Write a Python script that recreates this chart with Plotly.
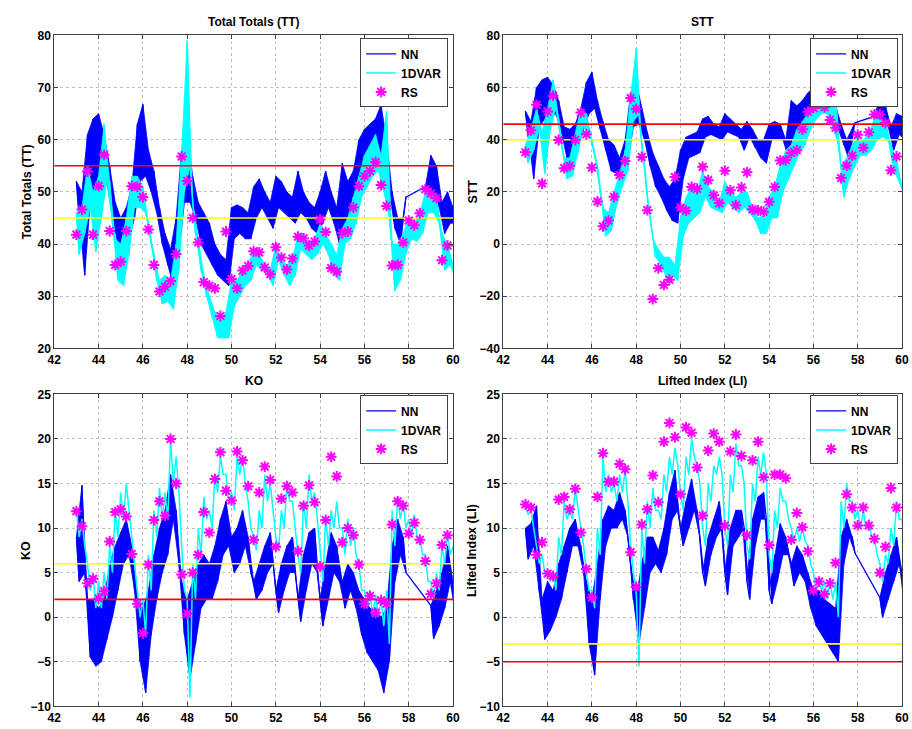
import plotly.graph_objects as go

# time axis (day), sampled every 0.25
T = [43.0 + 0.25 * i for i in range(69)]
T_RS = T[:68]

# ---------------- Total Totals ----------------
TT_NN_HI = [52,50,61,64,65,61,55,48,45,47, 51,63,66.8,58,54,47,42,39,45,58,
            61,53,48,46,44,40,38,37,47,47.5, 47,46,51,52.5,50,48,53,52,50,49,
            54,50,48,47,50,54,50,47,55.5,52, 54,60,62,63,64,66.7,60,50,45,45,
            None,None,None,51,57,55,48,50,47]
TT_NN_LO = [45,34,48,50,48,52,45,40,38,41, 45,52,53,50,46,40,36,32,38,48,
            48,45,40,38,36,34,33,32,41,42, 41,41,45,47,45,43,47,46,45,44,
            46,45,43,42,44,47,44,40,44,46, 46,52,54,55,56,55,50,43,40,49,
            None,None,None,49,50,47,42,44,44]
TT_DV_HI = [46,47,55,50,53,63,52,41,40,45, 53,53,51,44,38,33,34,33,40,58,
            79,48,41,34,30,27,25,27,33,33, 35,36,39,38,36,35,40,37,36,37,
            42,42,40,41,44,42,40,38,43,45, 49,53,57,59,61,57,65.5,40,40,42,
            45,44,46,50,50,49,42,40,36]
TT_DV_LO = [38,42,47,38.5,45,52,44,33,32,38, 47,47,46,40,33,28.5,29,27.5,35,50,
            55,42,35,30,26,22,22,22,28,30, 32,33,36,35,34,32,37,34,32,34,
            39,38,37,38,40,38,34,33,40,41, 44,49,51,53,54,50,45,31,33,38,
            41,40.5,42,46,46,44,35,36,33]
TT_RS = [41.8,46.6,53.9,41.8,51.1,57.1,42.5,36.0,36.6,42.5, 51.1,51.0,49.0,42.8,36.0,30.9,31.8,32.9,38.1,56.8,
         52.1,45.0,40.3,32.7,32.0,31.5,26.2,42.4,33.3,31.5, 34.9,35.8,38.6,38.4,35.5,34.2,39.4,37.4,35.1,37.2,
         41.4,41.1,39.7,40.5,44.7,42.3,35.4,34.7,42.1,42.4, 47.0,51.1,53.0,54.0,55.7,51.3,47.3,35.9,36.0,40.3,
         44.5,43.6,45.9,50.5,49.7,48.8,36.9,39.7]

# ---------------- STT ----------------
STT_NN_HI = [51,47,60,63,64,61,55,45,44,46, 52,62,66,55,47,40,38,33,40,58,
             62,52,43,35,30,25,22,25,36,41, 42,43,48,49,46,45,50,48,46,44,
             47,44,40,40,46,47,46,40,55,53, 55,58,60,62,60,58,53,46,40,44,
             None,None,None,49,56,53,45,50,49]
STT_NN_LO = [41,25,45,48,48,50,43,33,34,37, 44,50,52,44,36,28,27,27,32,45,
             46,40,30,22,18,13,9,8,25,33, 34,35,41,42,41,40,43,42,41,36,
             41,37,33,31,40,40,40,33,41,45, 47,50,52,54,53,52,44,38,32,46.5,
             None,None,None,48,48,45,36,42,40]
STT_DV_HI = [38,44,52,43,52,63,48,33,33,42, 52,50,40,30,14,12,20,27,36,57,
             75,38,18,2,-2,-5,-5,-8,10,18, 22,20,28,22,20,16,24,20,18,20,
             20,14,10,11,18,22,30,36,38,44, 47,50,56,56,59,55,58,30,33,38,
             42,40,42,48,48,47,38,32,22]
STT_DV_LO = [31,36,44,27,44,52,38,25,26,35, 45,42,34,20,3,5,15,22,28,47,
             50,30,10,-5,-8,-13,-12,-14,3,8, 10,12,18,14,13,12,16,14,12,14,
             12,9,4,4,10,10,20,25,30,35, 38,44,48,50,50,45,38,18,25,30,
             34,34,36,40,41,40,28,24,18]
STT_RS = [35.2,43.6,53.4,23.2,50.8,56.9,39.9,29.1,30.0,39.9, 50.4,42.1,29.3,16.3,6.8,9.0,18.1,26.5,31.8,56.0,
          51.8,33.4,13.0,-21.1,-9.3,-15.7,-13.7,25.7,14.0,12.8, 21.9,21.2,29.6,24.5,18.7,15.7,28.1,20.6,14.9,21.7,
          27.5,13.3,12.9,12.4,16.2,21.9,32.0,32.2,34.9,36.0, 44.0,50.7,52.2,53.9,52.5,47.6,44.6,25.3,30.1,33.9,
          41.9,36.9,42.9,49.7,49.7,46.4,28.3,33.6]

# ---------------- KO ----------------
KO_NN_HI = [9,14.8,2,2,1,2,6,8,9.5,11, 8,2,1,3,7,10,12,16,12,4,
            2,4,6,7,6,8,11,13,9,10, 12,9,4,6,8,9.5,3,6,8,9,
            2,7,9.5,10,2,6,9.5,8,4,6, 5,3,2,1,1,0,1,8,11,9,
            None,None,None,None,1.3,3,5,8,4]
KO_NN_LO = [4,5,-4.5,-5.5,-5,-2.5,0,3,6,7, 3,-5,-8.5,-2,2,5,7,11,6,-2,
            -7,-3,1,2,2,4,7,8,5,6, 8,5,2,3,5,6,0.5,3,5,5,
            -0.5,3,6,5,-1,2,5,4,1,3, 1,-2,-4,-5,-6,-8.5,-5,4,7,5,
            None,None,None,None,-2.4,-1,1,4,0]
KO_DV_HI = [12,11,6,5,4,5,8,12,14,15, 9,3,2,7,12,14.5,14,20,18,8,
            2,6,10,13.5,12,16,18,16,14,18, 18,13,9,12,16,15,9,12,15,13,
            7,13,16,14,7,11,12,13,10,11, 10,6,3,3,2.5,2,3,12,13.5,13,
            11,11.5,9,7,4,5,8,9.5,8]
KO_DV_LO = [9,8,3,1,1,2,5,9,11,12, 6,0,-2,3,9,11,11,15,14,3,
            -9,2,7,11,10,14,16,13,12,16, 15,10,7.5,10,13,12,7.5,10,13,10,
            5,10,13,11,4,8,10,10,7,8, 7,3,1,0,0,-1,-3,8,11,10,
            9,9,7,4,2,3,6,7,6]
KO_RS = [11.9,10.2,3.8,4.3,2.1,2.9,8.5,11.8,12.1,11.3, 7.1,1.5,-1.8,5.9,10.9,13.0,11.4,20.0,15.0,4.8,
         0.4,5.0,7.0,11.8,9.5,15.5,18.5,14.2,13.1,18.6, 17.6,14.7,8.7,14.0,16.9,15.4,7.9,13.3,14.7,14.0,
         7.4,12.5,14.8,12.9,5.7,10.9,18.0,15.8,8.4,10.0, 9.2,5.9,1.5,2.4,0.5,1.9,1.5,10.4,13.0,12.5,
         9.4,10.6,8.7,6.3,2.6,3.8,8.1,9.2]

# ---------------- Lifted Index ----------------
LI_NN_HI = [10,10.5,12.5,2,4,3,6,8,10,11, 8,4,2,6,11,12.5,12,14,12,6,
            2,6,9,9,7.5,10,14,16.5,10,13, 15.5,12,5,9,11,13,5,10,12,12,
            4,11,13.5,14,3,7,10.5,9,6,8, 7,5,3,3,2,1.5,1,9,11,9,
            None,None,None,None,2.2,5,7,9,5]
LI_NN_LO = [6.5,8,3,-2.5,-1.5,0,2,5,8,8, 5,-3,-6.5,2,8,10,10,11,9,2,
            -3,1,5,6,5,7,11,12,8,10, 12,9,3.5,7,9,10,2.5,8,9,10,
            2,8,11,11,1.5,4,7,7,3.5,5, 4,1,-1,-2,-3,-4,-5,6,9,7.2,
            None,None,None,None,0,2,4,6,1]
LI_DV_HI = [12.5,12,8,7,5,5,9,13,12,14.5, 10,5,3,10,18,16,15,16,16.5,8,
            3,10,13,14.5,12,16,18,19,14,18, 20,17,10,15,17,18,10,16,19.5,17,
            8,15,18,18.5,7,12,14.5,13,10,10, 10,8,5,4,4,4,4,13,15,13,
            12,12,11,9,6,7,10,13,11]
LI_DV_LO = [11.5,10,6,5,4,3,7,11,11,12, 8,3,1,7,14,14,13,14,13,5,
            -5.5,6,10,12,11,14,16,17,12,16, 18,15,8,13,16,16,8,14,17,15,
            6.5,13,16,16,5,10,13,11,8.5,8.5, 8.5,6,3,3,2,2,0,10,13,11,
            10,10,9,7,4,6,8,11,8]
LI_RS = [12.65,12.3,7.0,8.4,4.9,4.6,13.2,13.5,12.1,14.4, 9.5,5.4,2.2,13.5,18.4,15.2,15.2,17.2,16.6,7.3,
         3.4,10.4,12.1,15.9,12.9,19.7,21.8,20.2,13.8,21.3, 20.7,16.8,11.4,18.7,20.6,19.7,10.3,18.6,20.5,18.1,
         9.2,17.6,19.7,15.7,8.1,16.0,16.0,15.6,8.7,11.7, 10.1,7.4,3.0,4.0,2.6,3.8,6.1,None,13.8,12.3,
         10.3,12.3,10.3,8.8,5.0,7.9,14.5,12.3]

TITLES = ["Total Totals (TT)", "STT", "KO", "Lifted Index (LI)"]
YLABELS = ["Total Totals (TT)", "STT", "KO", "Lifted Index (LI)"]
YRANGES = [(20, 80, 10), (-40, 80, 20), (-10, 25, 5), (-10, 25, 5)]
RED_LEVEL = [55, 46, 2, -5]
YELLOW_LEVEL = [45, 40, 6, -3]
CYAN_AS_BAND = [True, True, False, False]

SERIES = [
    (TT_NN_HI, TT_NN_LO, TT_DV_HI, TT_DV_LO, TT_RS),
    (STT_NN_HI, STT_NN_LO, STT_DV_HI, STT_DV_LO, STT_RS),
    (KO_NN_HI, KO_NN_LO, KO_DV_HI, KO_DV_LO, KO_RS),
    (LI_NN_HI, LI_NN_LO, LI_DV_HI, LI_DV_LO, LI_RS),
]
for s in SERIES:
    for arr in s[:4]:
        assert len(arr) == 69, len(arr)
    assert len(s[4]) == 68, len(s[4])

HALF = 0.125


def zig(hi, lo):
    """Jagged line alternating between the read upper and lower values."""
    xs, ys = [], []
    for t, h, l in zip(T, hi, lo):
        if h is None:
            continue
        xs += [t, t + HALF]
        ys += [h, l]
    return xs, ys


def band(hi, lo):
    """Closed polygons between the upper and lower values, one per contiguous run."""
    xs, ys = [], []
    run = []
    for t, h, l in list(zip(T, hi, lo)) + [(None, None, None)]:
        if h is None:
            if len(run) > 1:
                xs += [r[0] for r in run] + [r[0] + HALF for r in reversed(run)] + [run[0][0], None]
                ys += [r[1] for r in run] + [r[2] for r in reversed(run)] + [run[0][1], None]
            run = []
        else:
            run.append((t, h, l))
    return xs, ys


W, H = 912, 729
XDOM = [(48 / W, 453 / W), (504 / W, 909 / W)]
YDOM = [(1 - 348 / H, 1 - 29 / H), (1 - 713 / H, 1 - 395 / H)]
FONT = "Liberation Sans, Arial, sans-serif"
BLUE, CYAN, MAG = "#0000ff", "#00ffff", "#ff00ff"

fig = go.Figure()
layout = dict(width=W, height=H, margin=dict(l=0, r=0, t=0, b=0),
              paper_bgcolor="white", plot_bgcolor="white", showlegend=True,
              font=dict(family=FONT, size=12, color="black", weight="bold"))
annotations = []

for k in range(4):
    col, row = k % 2, k // 2
    sfx = "" if k == 0 else str(k + 1)
    xa, ya = "x" + sfx, "y" + sfx
    leg = "legend" + sfx
    nn_hi, nn_lo, dv_hi, dv_lo, rs = SERIES[k]

    # NN: dense band + jagged outline
    bx, by = band(nn_hi, nn_lo)
    fig.add_trace(go.Scatter(x=bx, y=by, mode="lines", fill="toself", fillcolor=BLUE,
                             line=dict(color=BLUE, width=0.8), showlegend=False,
                             xaxis=xa, yaxis=ya, hoverinfo="skip"))
    x, y = zig(nn_hi, nn_lo)
    fig.add_trace(go.Scatter(x=x, y=y, mode="lines", name="NN",
                             line=dict(color=BLUE, width=1.3),
                             xaxis=xa, yaxis=ya, legend=leg))
    # 1DVAR
    if CYAN_AS_BAND[k]:
        bx, by = band(dv_hi, dv_lo)
        fig.add_trace(go.Scatter(x=bx, y=by, mode="lines", fill="toself", fillcolor=CYAN,
                                 line=dict(color=CYAN, width=0.8), showlegend=False,
                                 xaxis=xa, yaxis=ya, hoverinfo="skip"))
    x, y = zig(dv_hi, dv_lo)
    fig.add_trace(go.Scatter(x=x, y=y, mode="lines", name="1DVAR",
                             line=dict(color=CYAN, width=1.5),
                             xaxis=xa, yaxis=ya, legend=leg))
    fig.add_trace(go.Scatter(x=[42, 60], y=[RED_LEVEL[k]] * 2, mode="lines",
                             line=dict(color="#ff0000", width=1.6),
                             showlegend=False, xaxis=xa, yaxis=ya, hoverinfo="skip"))
    fig.add_trace(go.Scatter(x=[42, 60], y=[YELLOW_LEVEL[k]] * 2, mode="lines",
                             line=dict(color="#ffff00", width=1.6),
                             showlegend=False, xaxis=xa, yaxis=ya, hoverinfo="skip"))
    fig.add_trace(go.Scatter(x=T_RS, y=rs, mode="markers", name="RS",
                             marker=dict(symbol="asterisk-open", size=9, color=MAG,
                                         line=dict(color=MAG, width=2)),
                             xaxis=xa, yaxis=ya, legend=leg))

    lo, hi, dt = YRANGES[k]
    axis_common = dict(showline=True, linecolor="#404040", linewidth=1, mirror="ticks",
                       ticks="inside", ticklen=4, tickcolor="#404040",
                       showgrid=True, gridcolor="#c0c0c0", griddash="dot", gridwidth=1,
                       zeroline=False,
                       tickfont=dict(family=FONT, size=12, color="black", weight="bold"))
    layout["xaxis" + sfx] = dict(domain=XDOM[col], range=[42, 60], dtick=2, tick0=42,
                                 anchor=ya, **axis_common)
    layout["yaxis" + sfx] = dict(domain=YDOM[row], range=[lo, hi], dtick=dt, tick0=lo,
                                 anchor=xa, **axis_common)
    right_px = [448, 905][col]
    top_px = [32, 396][row]
    layout[leg] = dict(x=right_px / W, y=1 - top_px / H, xanchor="right", yanchor="top",
                       xref="paper", yref="paper",
                       bgcolor="white", bordercolor="#404040", borderwidth=1,
                       font=dict(family=FONT, size=12, color="black", weight="bold"),
                       tracegroupgap=0, itemwidth=30)

    xc = (XDOM[col][0] + XDOM[col][1]) / 2
    title_y = [1 - 15 / H, 1 - 381 / H][row]
    annotations.append(dict(text=TITLES[k], x=xc, y=title_y, xref="paper", yref="paper",
                            showarrow=False, xanchor="center", yanchor="middle",
                            font=dict(family=FONT, size=12, color="black", weight="bold")))
    ylab_x = [20, 473][col]
    yc = (YDOM[row][0] + YDOM[row][1]) / 2
    annotations.append(dict(text=YLABELS[k], x=ylab_x / W, y=yc, xref="paper", yref="paper",
                            showarrow=False, textangle=-90, xanchor="center", yanchor="middle",
                            font=dict(family=FONT, size=12.5, color="black", weight="bold")))

layout["annotations"] = annotations
fig.update_layout(**layout)
fig.write_html("out.html")
